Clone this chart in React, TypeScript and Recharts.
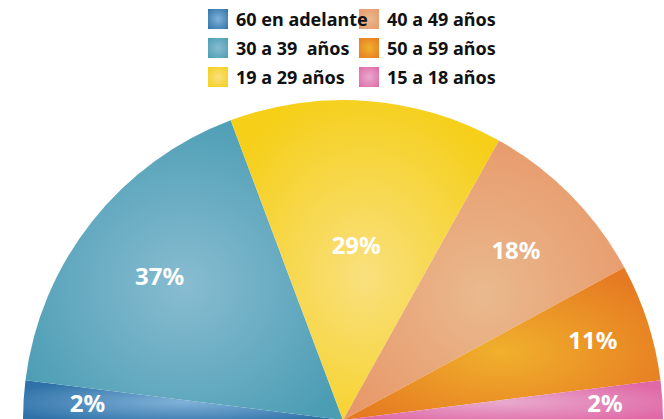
import React from 'react';
import { PieChart, Pie, Cell } from 'recharts';

// grupos de edad, en el orden en que se dibujan las porciones
const grupos = ['60 en adelante', '30 a 39  años', '19 a 29 años', '40 a 49 años', '50 a 59 años', '15 a 18 años'];
const porcentajes = [2, 37, 29, 18, 11, 2];

const colorBorde = ['#2f72a8', '#4b9db4', '#f5cf18', '#e8996a', '#e67a22', '#e068a6'];
const colorCentro = ['#80b2d8', '#88bcd1', '#f9e07e', '#e9b98e', '#f0b02c', '#e8aace'];
// distancia de cada etiqueta al centro (fraccion del radio)
const radioEtiqueta = [0.8, 0.73, 0.55, 0.76, 0.82, 0.82];

const data = grupos.map((name, i) => ({ name, value: porcentajes[i] }));

const RADIAN = Math.PI / 180;
const FONT = "'Noto Sans', sans-serif";

const renderLabel = (props: any) => {
  const { cx, cy, midAngle, outerRadius, index, value } = props;
  const r = outerRadius * radioEtiqueta[index];
  const x = cx + r * Math.cos(-midAngle * RADIAN);
  // las porciones pegadas al borde inferior: subir la etiqueta para que no se corte
  const y = Math.min(cy + r * Math.sin(-midAngle * RADIAN), cy - 18);
  return (
    <text x={x} y={y} fill="#ffffff" textAnchor="middle" dominantBaseline="central"
      fontFamily={FONT} fontWeight={700} fontSize={24}>
      {value}%
    </text>
  );
};

const App: React.FC = () => {
  const pos = (i: number) => ({
    left: i < 3 ? 208 : 359,
    top: 9 + (i % 3) * 29,
  });

  return (
    <div style={{ position: 'fixed', left: 0, top: 0, width: 664, height: 419, background: '#fff', overflow: 'hidden' }}>
      <svg width={0} height={0} style={{ position: 'absolute' }}>
        <defs>
          {grupos.map((_, i) => (
            <radialGradient key={i} id={`g${i}`} cx="50%" cy="55%" r="60%">
              <stop offset="0%" stopColor={colorCentro[i]} />
              <stop offset="100%" stopColor={colorBorde[i]} />
            </radialGradient>
          ))}
        </defs>
      </svg>

      <PieChart width={664} height={419} margin={{ top: 0, right: 0, bottom: 0, left: 0 }}>
        <Pie
          data={data}
          dataKey="value"
          nameKey="name"
          cx={343}
          cy={420}
          outerRadius={320}
          startAngle={180}
          endAngle={0}
          minAngle={4}
          stroke="none"
          labelLine={false}
          label={renderLabel}
          isAnimationActive={false}
        >
          {data.map((_, i) => (
            <Cell key={i} fill={`url(#g${i})`} />
          ))}
        </Pie>
      </PieChart>

      {/* leyenda en dos columnas: primero los cuadros, luego los textos encima */}
      {grupos.map((g, i) => (
        <div key={`sw-${g}`} style={{
          position: 'absolute', ...pos(i), width: 20, height: 20,
          background: `radial-gradient(circle, ${colorCentro[i]} 0%, ${colorBorde[i]} 100%)`,
        }} />
      ))}
      {grupos.map((g, i) => (
        <span key={`tx-${g}`} style={{
          position: 'absolute', left: pos(i).left + 28, top: pos(i).top,
          fontFamily: FONT, fontWeight: 700, fontSize: 18, color: '#111',
          whiteSpace: 'pre', lineHeight: '20px',
        }}>{g}</span>
      ))}
    </div>
  );
};

export default App;
